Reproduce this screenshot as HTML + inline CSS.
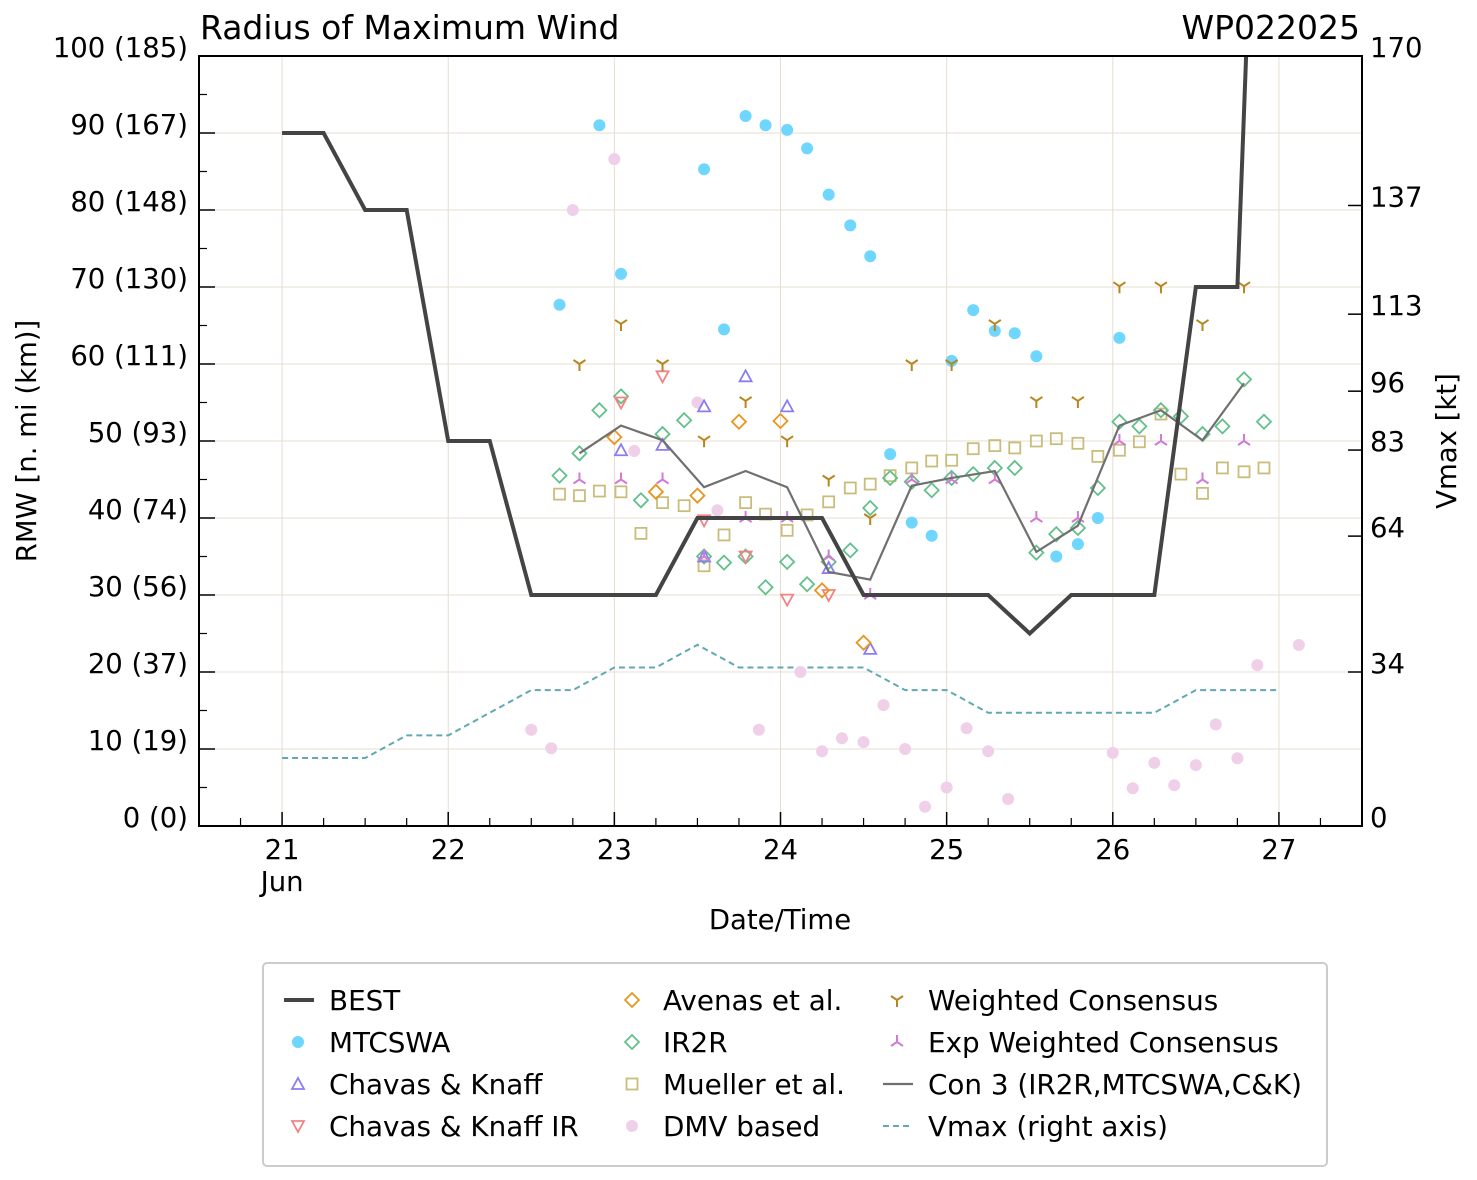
<!DOCTYPE html>
<html><head><meta charset="utf-8"><style>
body{margin:0;background:#fff}
svg{display:block;font-family:"DejaVu Sans","Liberation Sans",sans-serif}
</style></head><body>
<svg id="c" width="1477" height="1180" viewBox="0 0 1477 1180" xmlns="http://www.w3.org/2000/svg">
<rect width="1477" height="1180" fill="#fff"/>
<g id="grid"></g><g id="series"></g><g id="axes"></g><g id="legend"></g>
</svg>
<script>
const dayTicks=[21,22,23,24,25,26,27];
const rmwTicks=[0,10,20,30,40,50,60,70,80,90,100];
const kmLabels=["0 (0)","10 (19)","20 (37)","30 (56)","40 (74)","50 (93)","60 (111)","70 (130)","80 (148)","90 (167)","100 (185)"];
const vmaxTicks=[0,34,64,83,96,113,137,170];
const bestT=[21,21.25,21.5,21.75,22,22.25,22.5,23.25,23.5,24.25,24.5,25.25,25.5,25.75,26.25,26.5,26.75,26.82];
const bestV=[90,90,80,80,50,50,30,30,40,40,30,30,25,30,30,70,70,110];
const vmaxT=[21,21.5,21.75,22,22.5,22.75,23,23.25,23.5,23.75,24.5,24.75,25,25.25,26.25,26.5,27];
const vmaxV=[15,15,20,20,30,30,35,35,40,35,35,30,30,25,25,30,30];
const mtT=[22.67,22.91,23.04,23.54,23.66,23.79,23.91,24.04,24.16,24.29,24.42,24.54,24.66,24.79,24.91,25.03,25.16,25.29,25.41,25.54,25.66,25.79,25.91,26.04];
const mtV=[67.7,91,71.7,85.3,64.5,92.2,91,90.4,88,82,78,74,48.3,39.4,37.7,60.4,67,64.3,64,61,35,36.6,40,63.4];
const ckT=[23.04,23.29,23.54,23.54,23.79,24.04,24.29,24.54];
const ckV=[48.8,49.5,54.5,35,58.4,54.5,33.5,23];
const ckirT=[23.04,23.29,23.54,23.79,24.04,24.29];
const ckirV=[55,58.4,39.7,35,29.4,30];
const avT=[23.0,23.25,23.5,23.75,24.0,24.25,24.5];
const avV=[50.5,43.4,42.9,52.5,52.6,30.6,23.8];
const irT=[22.67,22.79,22.91,23.04,23.16,23.29,23.42,23.54,23.66,23.79,23.91,24.04,24.16,24.29,24.42,24.54,24.66,24.79,24.91,25.03,25.16,25.29,25.41,25.54,25.66,25.79,25.91,26.04,26.16,26.29,26.41,26.54,26.66,26.79,26.91];
const irV=[45.5,48.4,54,55.8,42.3,50.9,52.7,35,34.2,35,31,34.3,31.4,34.3,35.8,41.3,45.2,44.7,43.6,45.2,45.7,46.5,46.5,35.5,37.9,38.7,43.9,52.5,51.9,54,53.2,50.9,51.9,58,52.5];
const muT=irT;
const muV=[43.1,42.9,43.5,43.4,38,42,41.6,33.8,37.8,42,40.5,38.4,40.4,42.1,43.9,44.4,45.5,46.5,47.4,47.5,49,49.4,49.1,50,50.3,49.7,48,48.8,49.9,53.5,45.7,43.2,46.5,46,46.5];
const dmT=[22.5,22.62,22.75,23.0,23.12,23.5,23.62,23.87,24.12,24.25,24.37,24.5,24.62,24.75,24.87,25.0,25.12,25.25,25.37,26.0,26.12,26.25,26.37,26.5,26.62,26.75,26.87,27.12];
const dmV=[12.5,10.1,80,86.6,48.7,55,41,12.5,20,9.7,11.4,10.9,15.7,10,2.5,5,12.7,9.7,3.5,9.5,4.9,8.2,5.3,7.9,13.2,8.8,20.9,23.5];
const wcT=[22.79,23.04,23.29,23.54,23.79,24.04,24.29,24.54,24.79,25.03,25.29,25.54,25.79,26.04,26.29,26.54,26.79];
const wcV=[60,65.2,60,50.1,55.2,50.1,45,40,60,60,65.2,55.2,55.2,70.1,70.1,65.2,70.1];
const ewV=[45,45,45,35,40,40,35,30,45,45,45,40,40,50,50,45,50];
const c3V=[48.4,52,50.1,44,46.1,44,33,32,44.2,45.2,46.1,35.6,39,52,54,50.1,57.5];

const L=199,R=1362,T=56,B=826;
const X=d=>L+(d-20.5)/7*(R-L);
const Y=v=>B-v/100*(B-T);
const YK=v=>B-v/170*(B-T);
const NS="http://www.w3.org/2000/svg";
function mk(tag,at,parent){const e=document.createElementNS(NS,tag);for(const k in at)e.setAttribute(k,at[k]);parent.appendChild(e);return e;}
const G=document.getElementById('grid'),S=document.getElementById('series'),A=document.getElementById('axes'),LG=document.getElementById('legend');

dayTicks.forEach(d=>{const l=mk('line',{x1:X(d),x2:X(d),y1:T,y2:B,stroke:'#e6ddd0','stroke-width':1},G);

});
rmwTicks.forEach(v=>{const l=mk('line',{x1:L,x2:R,y1:Y(v),y2:Y(v),stroke:'#e6ddd0','stroke-width':1},G);

});

const clip=mk('clipPath',{id:'pc'},document.getElementById('c'));mk('rect',{x:L,y:T,width:R-L,height:B-T},clip);
S.setAttribute('clip-path','url(#pc)');

function line(ts,vs,yf,attrs,name){const p=mk('polyline',Object.assign({points:ts.map((t,i)=>X(t)+','+yf(vs[i])).join(' '),fill:'none'},attrs),S);

}

function marker(type,x,y,col,par){
  let e;
  if(type==='circle')e=mk('circle',{cx:x,cy:y,r:6,fill:col},par);
  else if(type==='up')e=mk('polygon',{points:`${x},${y-6} ${x-6},${y+5} ${x+6},${y+5}`,fill:'none',stroke:col,'stroke-width':1.8},par);
  else if(type==='down')e=mk('polygon',{points:`${x},${y+6} ${x-6},${y-5} ${x+6},${y-5}`,fill:'none',stroke:col,'stroke-width':1.8},par);
  else if(type==='diamond')e=mk('polygon',{points:`${x},${y-7} ${x+7},${y} ${x},${y+7} ${x-7},${y}`,fill:'none',stroke:col,'stroke-width':1.8},par);
  else if(type==='square')e=mk('rect',{x:x-5.5,y:y-5.5,width:11,height:11,fill:'none',stroke:col,'stroke-width':1.8},par);
  else if(type==='y')e=mk('path',{d:`M${x},${y} V${y+7} M${x},${y} L${x-6},${y-4} M${x},${y} L${x+6},${y-4}`,fill:'none',stroke:col,'stroke-width':2},par);
  else if(type==='iy')e=mk('path',{d:`M${x},${y} V${y-7} M${x},${y} L${x-6},${y+4} M${x},${y} L${x+6},${y+4}`,fill:'none',stroke:col,'stroke-width':2},par);
  return e;
}
function scatter(ts,vs,type,col,name){ts.forEach((t,i)=>{const e=marker(type,X(t),Y(vs[i]),col,S);

});}

const C={mt:'#6fd6ff',ck:'#8a7df0',ckir:'#f08282',av:'#e8951f',ir:'#62c08a',mu:'#c9bd7c',dm:'#f0d0e8',wc:'#b8861e',ew:'#d27ad6',c3:'#707070',vm:'#62a8b4',best:'#444'};
line(vmaxT,vmaxV,YK,{stroke:C.vm,'stroke-width':2,'stroke-dasharray':'6,4'},'vmax-line');
scatter(dmT,dmV,'circle',C.dm,'dmv-point');
scatter(muT,muV,'square',C.mu,'mueller-point');
scatter(irT,irV,'diamond',C.ir,'ir2r-point');
scatter(mtT,mtV,'circle',C.mt,'mtcswa-point');
scatter(ckT,ckV,'up',C.ck,'chavas-knaff-point');
scatter(ckirT,ckirV,'down',C.ckir,'chavas-knaff-ir-point');
scatter(avT,avV,'diamond',C.av,'avenas-point');
scatter(wcT,wcV,'y',C.wc,'weighted-consensus-point');
scatter(wcT,ewV,'iy',C.ew,'exp-weighted-consensus-point');
line(wcT,c3V,Y,{stroke:C.c3,'stroke-width':2.2},'con3-line');
line(bestT,bestV,Y,{stroke:C.best,'stroke-width':4},'best-line');

mk('rect',{x:L,y:T,width:R-L,height:B-T,fill:'none',stroke:'#000','stroke-width':2},A);
function txt(s,x,y,anchor,size,name,extra){const t=mk('text',Object.assign({x:x,y:y,'text-anchor':anchor,'font-size':size,fill:'#000'},extra||{}),A);t.textContent=s;

return t;}
rmwTicks.forEach((v,i)=>{mk('line',{x1:L,x2:L+16,y1:Y(v),y2:Y(v),stroke:'#000','stroke-width':1.5},A);
txt(kmLabels[i],188,Y(v)+1,'end',27.5,'y-tick-label');});
for(let v=5;v<100;v+=10)mk('line',{x1:L,x2:L+8,y1:Y(v),y2:Y(v),stroke:'#000','stroke-width':1.2},A);
vmaxTicks.forEach(v=>{mk('line',{x1:R-14,x2:R,y1:YK(v),y2:YK(v),stroke:'#000','stroke-width':1.5},A);
txt(String(v),1370,YK(v)+1,'start',27.5,'right-tick-label');});
dayTicks.forEach(d=>{mk('line',{x1:X(d),x2:X(d),y1:B,y2:B-14,stroke:'#000','stroke-width':1.5},A);
txt(String(d),X(d),859,'middle',27.5,'x-tick-label');});
for(let d=20.75;d<27.5;d+=0.25){if(Math.abs(d-Math.round(d))>0.01)mk('line',{x1:X(d),x2:X(d),y1:B,y2:B-8,stroke:'#000','stroke-width':1.2},A);}
txt('Jun',X(21),891,'middle',27.5,'x-month-label');
txt('Date/Time',780,929,'middle',27.5,'x-axis-title');
txt('RMW [n. mi (km)]',36,441,'middle',27.5,'y-axis-title',{transform:'rotate(-90 36 441)'});
txt('Vmax [kt]',1456,441,'middle',27.5,'right-axis-title',{transform:'rotate(-90 1456 441)'});
txt('Radius of Maximum Wind',200,39,'start',33,'chart-title');
txt('WP022025',1360,39,'end',33,'storm-id');

mk('rect',{x:263,y:963,width:1064,height:203,rx:4,fill:'#fff',stroke:'#ccc','stroke-width':2},LG);
const legItems=[
 ['line',C.best,'BEST',298,1000],['circle',C.mt,'MTCSWA',298,1042],['up',C.ck,'Chavas & Knaff',298,1084],['down',C.ckir,'Chavas & Knaff IR',298,1126],
 ['diamond',C.av,'Avenas et al.',632,1000],['diamond',C.ir,'IR2R',632,1042],['square',C.mu,'Mueller et al.',632,1084],['circle',C.dm,'DMV based',632,1126],
 ['y',C.wc,'Weighted Consensus',897,1000],['iy',C.ew,'Exp Weighted Consensus',897,1042],['gline',C.c3,'Con 3 (IR2R,MTCSWA,C&K)',897,1084],['dline',C.vm,'Vmax (right axis)',897,1126]];
legItems.forEach(it=>{const g=mk('g',{},LG);


const [ty,col,lab,x,y]=it;
if(ty==='line')mk('line',{x1:x-14,x2:x+16,y1:y,y2:y,stroke:col,'stroke-width':4},g);
else if(ty==='gline')mk('line',{x1:x-14,x2:x+16,y1:y,y2:y,stroke:col,'stroke-width':2.2},g);
else if(ty==='dline')mk('line',{x1:x-14,x2:x+16,y1:y,y2:y,stroke:col,'stroke-width':2,'stroke-dasharray':'6,4'},g);
else marker(ty,x,y,col,g);
const t=mk('text',{x:x+31,y:y+10,'font-size':27.8,fill:'#000'},g);t.textContent=lab;});
</script>
</body></html>
